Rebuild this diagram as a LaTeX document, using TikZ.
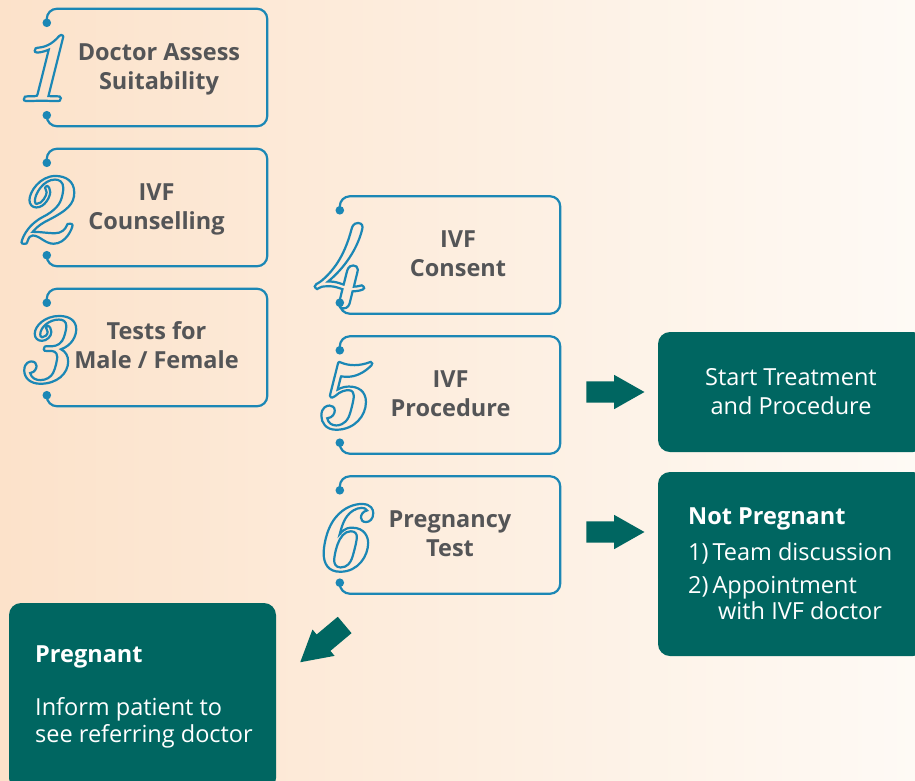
\documentclass[tikz,border=0pt]{standalone}
\usepackage{fontspec}
\setmainfont{Open Sans}
\newfontfamily\numfont{Latin Modern Roman}
\usetikzlibrary{calc,shapes.arrows}
\definecolor{bgL}{HTML}{FCE2CA}
\definecolor{bgR}{HTML}{FEFAF5}
\definecolor{ivfteal}{HTML}{006661}
\definecolor{ivfblue}{HTML}{1B87B5}
\definecolor{ivfgray}{HTML}{545557}
\newcommand\stepframe[1]{%
  \draw[frameline] ($(#1.north west)+(0,14)$) -- (#1.north west) -- (#1.north east)
     -- (#1.south east) -- (#1.south west) -- ($(#1.south west)+(0,-11)$);
  \fill[ivfblue] ($(#1.north west)+(0,14)$) circle (4.3pt)
                 ($(#1.south west)+(0,-11)$) circle (4.3pt);}
\newcommand\outl[1]{\special{pdf:literal direct 1 Tr 2.2 w}#1\special{pdf:literal direct 0 Tr}}
\begin{document}
\begin{tikzpicture}[x=1pt,y=-1pt,
  stepbox/.style={minimum width=220pt,minimum height=117pt,inner sep=0pt},
  frameline/.style={draw=ivfblue,line width=2.2pt,rounded corners=10pt},
  steptext/.style={text=ivfgray,font=\fontsize{23.5}{29}\selectfont\bfseries,align=center,inner sep=0pt,text height=15pt,text depth=5pt},
  numeral/.style={text=ivfblue,font=\fontsize{100}{100}\selectfont\numfont\bfseries\itshape,inner sep=0pt,text depth=0pt},
  resultbox/.style={fill=ivfteal,rounded corners=12pt,minimum width=267pt,inner sep=0pt},
  restext/.style={text=white,font=\fontsize{23.5}{29}\selectfont,inner sep=0pt},
  blockarrow/.style={single arrow,fill=ivfteal,minimum height=58pt,minimum width=34pt,inner xsep=0pt,inner ysep=10.5pt,single arrow tip angle=59,single arrow head extend=6.5pt}
]
\useasboundingbox (0,0) rectangle (915,780);
\shade[left color=bgL,right color=bgR] (0,0) rectangle (915,780);

% step frames
\node[stepbox] (s1) at (157,67.5) {};
\node[stepbox] (s2) at (157,207.5) {};
\node[stepbox] (s3) at (157,347.5) {};
\node[stepbox] (s4) at (450,255) {};
\node[stepbox] (s5) at (450,395) {};
\node[stepbox] (s6) at (450,535) {};
\stepframe{s1}\stepframe{s2}\stepframe{s3}\stepframe{s4}\stepframe{s5}\stepframe{s6}

% numerals
\node[numeral] (n1) at (41,68) {\outl{1}};
\node[numeral] (n2) at (42,209) {\outl{2}};
\node[numeral] (n3) at (43,349) {\outl{3}};
\node[numeral] (n4) at (339,256) {\outl{4}};
\node[numeral] (n5) at (339,395) {\outl{5}};
\node[numeral] (n6) at (340,537) {\outl{6}};

% step texts
\node[steptext] (t1) at (159,84.5) {Doctor Assess\\Suitability};
\node[steptext] (t2) at (156.5,224.5) {IVF\\Counselling};
\node[steptext] (t3) at (156.5,363.5) {Tests for\\Male / Female};
\node[steptext] (t4) at (458,271.5) {IVF\\Consent};
\node[steptext] (t5) at (450.5,411.5) {IVF\\Procedure};
\node[steptext] (t6) at (450,551.5) {Pregnancy\\Test};

% result boxes
\node[resultbox,minimum height=120pt] (r1) at (791.5,392) {};
\node[restext,align=center,text height=15pt,text depth=5pt] (r1t) at (791,409.5) {Start Treatment\\and Procedure};
\node[resultbox,minimum height=184pt] (r2) at (791.5,564) {};
\node[restext,anchor=base west,font=\fontsize{23.5}{29}\selectfont\bfseries] (r2a) at (688,524) {Not Pregnant};
\node[restext,anchor=base west] (r2b) at (688,560) {1)\,Team discussion};
\node[restext,anchor=base west] (r2c) at (688,593) {2)\,Appointment};
\node[restext,anchor=base west] (r2d) at (718,619) {with IVF doctor};
\node[resultbox,minimum height=187pt] (r3) at (142.5,696.5) {};
\node[restext,anchor=base west,font=\fontsize{23.5}{29}\selectfont\bfseries] (r3a) at (35,662) {Pregnant};
\node[restext,anchor=base west] (r3b) at (35,715) {Inform patient to};
\node[restext,anchor=base west] (r3c) at (35,742) {see referring doctor};

% block arrows
\node[blockarrow] (a1) at (606,392) {};
\node[blockarrow] (a2) at (606,532) {};
\node[blockarrow,rotate=220] (a3) at (329.7,637.5) {};
\end{tikzpicture}
\end{document}
